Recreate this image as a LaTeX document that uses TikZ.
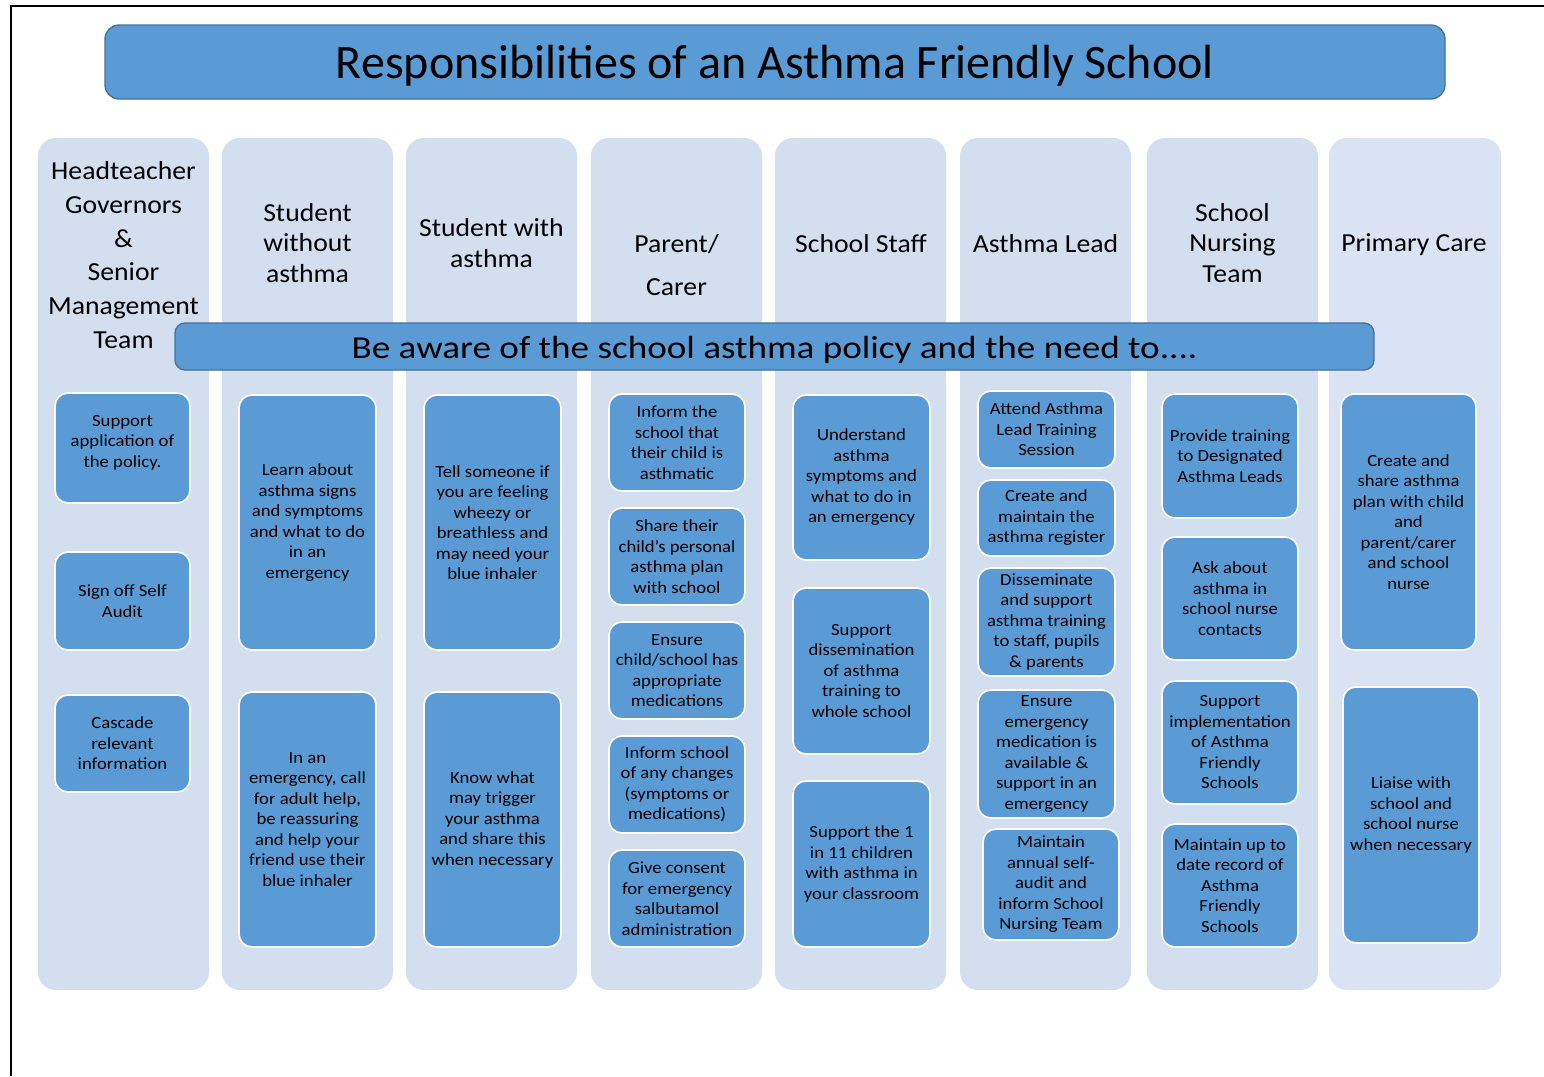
\documentclass[tikz,border=0pt]{standalone}
\usepackage{fontspec}
\setmainfont{Carlito}
\newfontfamily\boxfont[FakeStretch=1.1]{Carlito}
\newfontfamily\hdrfont[FakeStretch=1.065]{Carlito}
\newfontfamily\banfont[FakeStretch=1.16]{Carlito}
\definecolor{boxblue}{HTML}{5B9BD5}
\definecolor{darkedge}{HTML}{41719C}
\definecolor{colfill}{HTML}{D3DEEF}
\definecolor{colfillb}{HTML}{DAE3F3}
\tikzset{
  colbox/.style={fill=colfill, draw=none, rounded corners=18pt},
  ibox/.style={fill=boxblue, draw=white, line width=1.6pt, rounded corners=13pt, align=center, inner sep=2pt,
    font=\boxfont\fontsize{17}{20.5}\selectfont, text=black},
  hdr/.style={align=center, text=black, inner sep=0pt},
  banner/.style={fill=boxblue, draw=darkedge, line width=1.3pt, rounded corners=10pt, inner sep=0pt}
}
\newcommand\ibx[6]{\node[ibox,minimum width={(#4-#2)*1pt},minimum height={(#5-#3)*1pt}] (#1) at ({(#2+#4)/2},{(#3+#5)/2}) {#6};}
\newcommand\colx[4]{\node[colbox,#4,minimum width={(#3-#2)*1pt},minimum height=852pt] (#1) at ({(#2+#3)/2},564) {};}
\begin{document}
\begin{tikzpicture}[x=1pt,y=-1pt]
\useasboundingbox (0,0) rectangle (1544,1076);
\fill[white] (0,0) rectangle (1544,1076);
% page border lines
\draw[line width=2pt, black] (10,6) -- (1544,6);
\draw[line width=2pt, black] (11,6) -- (11,1076);
% title
\node[banner, minimum width=1340pt, minimum height=74pt, rounded corners=14pt,
  font=\fontsize{48}{54}\selectfont] (title) at (775,62) {\raisebox{-4pt}[\height][\depth]{Responsibilities of an Asthma Friendly School}};
% columns
\colx{c1}{38}{209}{}
\colx{c2}{222}{393}{}
\colx{c3}{406}{577}{}
\colx{c4}{591}{762}{}
\colx{c5}{775}{946}{}
\colx{c6}{960}{1131}{}
\colx{c7}{1147}{1318}{}
\colx{c8}{1329}{1501}{fill=colfillb}
% headers
\node[hdr, font=\hdrfont\fontsize{26}{33.8}\selectfont] (h1) at (123.5,255) {Headteacher\\Governors\\\&\\Senior\\Management\\Team};
\node[hdr, font=\hdrfont\fontsize{26}{30.5}\selectfont] (h2) at (307.5,243) {Student\\without\\asthma};
\node[hdr, font=\hdrfont\fontsize{26}{30.5}\selectfont] (h3) at (491.5,243) {Student with\\asthma};
\node[hdr, font=\hdrfont\fontsize{26}{43}\selectfont] (h4) at (676.5,265) {Parent/\\Carer};
\node[hdr, font=\hdrfont\fontsize{26}{30.5}\selectfont] (h5) at (861,244) {School Staff};
\node[hdr, font=\hdrfont\fontsize{26}{30.5}\selectfont] (h6) at (1045.5,244) {Asthma Lead};
\node[hdr, font=\hdrfont\fontsize{26}{30.5}\selectfont] (h7) at (1232.5,243) {School\\Nursing\\Team};
\node[hdr, font=\hdrfont\fontsize{26}{30.5}\selectfont] (h8) at (1414,245) {Primary Care};
% banner
\node[banner, minimum width=1199pt, minimum height=47pt, font=\banfont\fontsize{32}{38}\selectfont] (aware) at (774.5,346.5) {\raisebox{-3pt}[\height][\depth]{Be aware of the school asthma policy and the need to....}};
% column 1
\ibx{a1}{55}{393}{190}{503}{Support\\application of\\the policy.\\[-6.5pt]}
\ibx{a2}{55}{552}{190}{650}{Sign off Self\\Audit}
\ibx{a3}{55}{695}{190}{792}{Cascade\\relevant\\information}
% column 2
\ibx{b1}{239}{395}{376}{650}{Learn about\\asthma signs\\and symptoms\\and what to do\\in an\\emergency}
\ibx{b2}{239}{692}{376}{947}{In an\\emergency, call\\for adult help,\\be reassuring\\and help your\\friend use their\\blue inhaler}
% column 3
\ibx{s1}{424}{395}{561}{650}{Tell someone if\\you are feeling\\wheezy or\\breathless and\\may need your\\blue inhaler}
\ibx{s2}{424}{692}{561}{947}{Know what\\may trigger\\your asthma\\and share this\\when necessary}
% column 4
\ibx{p1}{609}{394}{745}{491}{Inform the\\school that\\their child is\\asthmatic}
\ibx{p2}{609}{508}{745}{605}{Share their\\child’s personal\\asthma plan\\with school}
\ibx{p3}{609}{622}{745}{719}{Ensure\\child/school has\\appropriate\\medications}
\ibx{p4}{609}{736}{745}{833}{Inform school\\of any changes\\(symptoms or\\medications)}
\ibx{p5}{609}{850}{745}{947}{Give consent\\for emergency\\salbutamol\\administration}
% column 5
\ibx{t1}{793}{395}{930}{560}{Understand\\asthma\\symptoms and\\what to do in\\an emergency}
\ibx{t2}{793}{588}{930}{754}{Support\\dissemination\\of asthma\\training to\\whole school}
\ibx{t3}{793}{781}{930}{947}{Support the 1\\in 11 children\\with asthma in\\your classroom}
% column 6
\ibx{l1}{978}{391}{1115}{468}{Attend Asthma\\Lead Training\\Session}
\ibx{l2}{978}{480}{1115}{556}{Create and\\maintain the\\asthma register}
\ibx{l3}{978}{568}{1115}{676}{Disseminate\\and support\\asthma training\\to staff, pupils\\\& parents}
\ibx{l4}{978}{690}{1115}{818}{Ensure\\emergency\\medication is\\available \&\\support in an\\emergency}
\ibx{l5}{983}{829}{1119}{940}{Maintain\\annual self-\\audit and\\inform School\\Nursing Team}
% column 7
\ibx{n1}{1162}{394}{1298}{518}{Provide training\\to Designated\\Asthma Leads}
\ibx{n2}{1162}{537}{1298}{660}{Ask about\\asthma in\\school nurse\\contacts}
\ibx{n3}{1162}{681}{1298}{804}{Support\\implementation\\of Asthma\\Friendly\\Schools}
\ibx{n4}{1162}{824}{1298}{947}{Maintain up to\\date record of\\Asthma\\Friendly\\Schools}
% column 8
\ibx{q1}{1341}{394}{1476}{650}{Create and\\share asthma\\plan with child\\and\\parent/carer\\and school\\nurse}
\ibx{q2}{1343}{687}{1479}{943}{Liaise with\\school and\\school nurse\\when necessary}
\end{tikzpicture}
\end{document}
